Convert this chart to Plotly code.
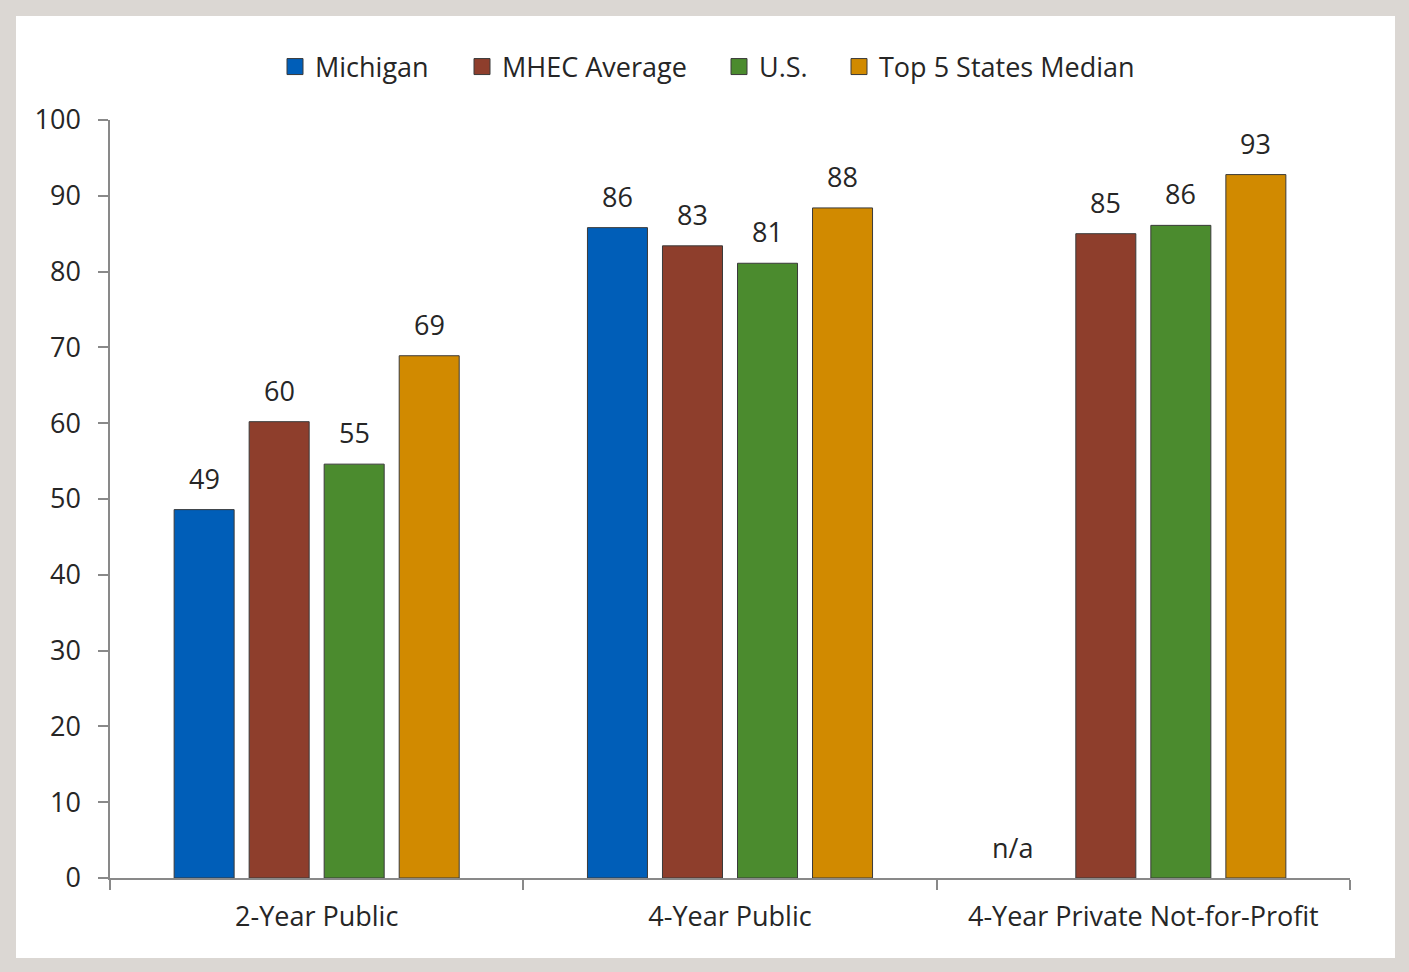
import plotly.graph_objects as go

categories = ["2-Year Public", "4-Year Public", "4-Year Private Not-for-Profit"]
series_names = ["Michigan", "MHEC Average", "U.S.", "Top 5 States Median"]
michigan = [48.6, 85.8, None]
mhec = [60.2, 83.4, 85.0]
us = [54.6, 81.1, 86.1]
top5 = [68.9, 88.4, 92.8]
y_ticks = [0, 10, 20, 30, 40, 50, 60, 70, 80, 90, 100]
colors = ["#005EB8", "#8E3E2C", "#4B8B2E", "#D18A00"]
na_label = "n/a"

series_values = [michigan, mhec, us, top5]

W, H = 1409, 972
ML, MR, MT, MB = 110, 59, 120, 94
BARGAP, BARGROUPGAP = 0.274, 0.2
FONT = "Open Sans"
FS = 27
TXT = "#262626"
plot_w = W - ML - MR
plot_h = H - MT - MB

# pixel x of each legend swatch centre (layout/style)
legend_px = [297, 484, 741, 861]
legend_ids = ["legend", "legend2", "legend3", "legend4"]

fig = go.Figure()
for name, vals, col, lid in zip(series_names, series_values, colors, legend_ids):
    fig.add_trace(go.Bar(
        x=categories, y=vals, name=name, showlegend=False,
        marker=dict(color=col, line=dict(color="#3a3a3a", width=1)),
        hoverinfo="x+y+name",
    ))
    # legend proxy
    fig.add_trace(go.Scatter(
        x=[None], y=[None], name=name, mode="markers", legend=lid,
        marker=dict(symbol="square", size=16, color=col, line=dict(color="#3a3a3a", width=1)),
    ))

# data labels via annotations placed at each bar's slot
cat_px = plot_w / len(categories)
slot_px = cat_px * (1 - BARGAP) / len(series_names)
annotations = []
for si, vals in enumerate(series_values):
    offset = (si - (len(series_names) - 1) / 2) * slot_px
    for ci, v in enumerate(vals):
        if v is None:
            annotations.append(dict(
                x=categories[ci], y=0, xref="x", yref="y", text=na_label,
                showarrow=False, xshift=offset - 18, yanchor="bottom", yshift=10,
                font=dict(family=FONT, size=FS, color=TXT)))
        else:
            annotations.append(dict(
                x=categories[ci], y=v, xref="x", yref="y", text=f"{v:.0f}",
                showarrow=False, xshift=offset, yanchor="bottom", yshift=11,
                font=dict(family=FONT, size=FS, color=TXT)))

legend_layouts = {}
for lid, px in zip(legend_ids, legend_px):
    legend_layouts[lid] = dict(
        orientation="h", x=(px - 22 - ML) / plot_w, xanchor="left",
        y=(H - MB - 67) / plot_h, yanchor="middle",
        font=dict(family=FONT, size=FS, color=TXT),
        bgcolor="rgba(0,0,0,0)", itemclick=False, itemdoubleclick=False)

fig.update_layout(
    width=W, height=H,
    margin=dict(l=ML, r=MR, t=MT, b=MB, pad=0),
    paper_bgcolor="#dbd7d3",
    plot_bgcolor="rgba(0,0,0,0)",
    barmode="group", bargap=BARGAP, bargroupgap=BARGROUPGAP,
    font=dict(family=FONT, size=FS, color=TXT),
    showlegend=True,
    annotations=annotations,
    shapes=[dict(type="rect", xref="paper", yref="paper", layer="below",
                 x0=(16 - ML) / plot_w, x1=(1395 - ML) / plot_w,
                 y0=(H - MB - 958) / plot_h, y1=(H - MB - 16) / plot_h,
                 fillcolor="white", line=dict(width=0))],
    xaxis=dict(type="category", showline=True, linecolor="#898989", linewidth=1.5,
               ticks="outside", tickson="boundaries", ticklen=10, tickcolor="#898989",
               tickwidth=1.5, showgrid=False, zeroline=False,
               tickfont=dict(family=FONT, size=FS, color=TXT), ticklabelstandoff=14),
    yaxis=dict(range=[0, 100], tickvals=y_ticks, showline=True, linecolor="#898989",
               linewidth=1.5, ticks="outside", ticklen=10, tickcolor="#898989", tickwidth=1.5,
               showgrid=False, zeroline=False,
               tickfont=dict(family=FONT, size=FS, color=TXT), ticklabelstandoff=12),
    **legend_layouts,
)

fig.write_html("out.html", config={"displayModeBar": False},
               post_script="document.body.style.margin='0';")
